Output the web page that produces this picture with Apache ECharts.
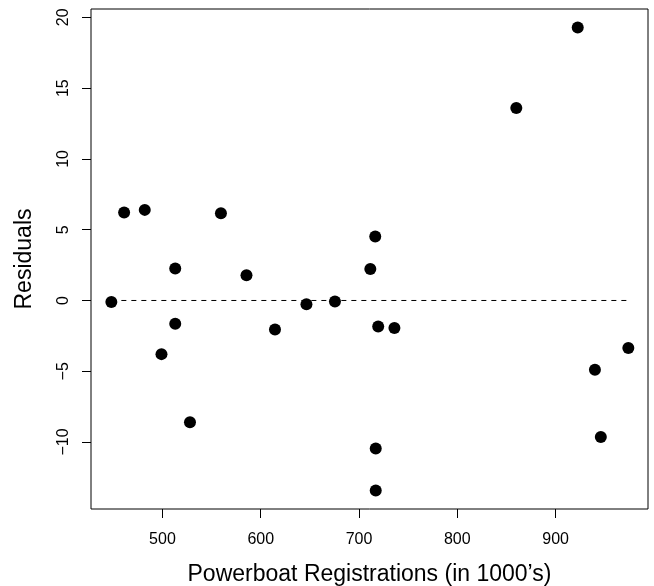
<!DOCTYPE html>
<html>
<head>
<meta charset="utf-8">
<script src="https://cdn.jsdelivr.net/npm/echarts@6/dist/echarts.min.js"></script>
<style>
  html, body { margin: 0; padding: 0; background: #fff; }
  #main { width: 654px; height: 586px; }
</style>
</head>
<body>
<div id="main"></div>
<script>
// powerboat registrations (1000's) and the fitted model's residuals
const registrations = [448, 461, 482, 499, 513, 513, 528, 559.5, 585.5, 614.5, 646.5, 675.5,
  711.5, 716.5, 717, 717, 719.5, 736, 860, 922.5, 940, 946, 974];
const residuals = [-0.11, 6.21, 6.4, -3.79, 2.26, -1.65, -8.6, 6.17, 1.79, -2.05, -0.26, -0.07,
  2.22, 4.52, -10.45, -13.42, -1.84, -1.95, 13.59, 19.28, -4.9, -9.65, -3.36];
const xTicks = [500, 600, 700, 800, 900];
const yTicks = [-10, -5, 0, 5, 10, 15, 20];

const font = 'Liberation Sans, Arial, Helvetica, sans-serif';
const points = registrations.map((v, i) => [v, residuals[i]]);
const xLo = Math.min(...registrations), xHi = Math.max(...registrations);

const chart = echarts.init(document.getElementById('main'));
chart.setOption({
  animation: false,
  backgroundColor: '#fff',
  grid: {
    left: 91, right: 6, top: 9, bottom: 77,
    outerBoundsMode: 'none',
    containLabel: false,
    show: true, borderColor: '#000', borderWidth: 1, backgroundColor: 'transparent'
  },
  xAxis: {
    type: 'value',
    min: 427.3, max: 994,
    name: 'Powerboat Registrations (in 1000\u2019s)',
    nameLocation: 'middle',
    nameGap: 54,
    nameTextStyle: { fontFamily: font, fontSize: 23, color: '#000' },
    axisLine: { show: false, onZero: false },
    splitLine: { show: false },
    axisTick: { show: true, inside: false, length: 9, customValues: xTicks, lineStyle: { color: '#000' } },
    axisLabel: { customValues: xTicks, margin: 23, fontFamily: font, fontSize: 16, color: '#000' }
  },
  yAxis: {
    type: 'value',
    min: -14.73, max: 20.59,
    name: 'Residuals',
    nameLocation: 'middle',
    nameRotate: 90,
    nameGap: 55,
    nameTextStyle: { fontFamily: font, fontSize: 23, color: '#000' },
    axisLine: { show: false, onZero: false },
    splitLine: { show: false },
    axisTick: { show: true, inside: false, length: 9, customValues: yTicks, lineStyle: { color: '#000' } },
    axisLabel: {
      customValues: yTicks, rotate: 90, margin: 19, fontFamily: font, fontSize: 16, color: '#000',
      formatter: v => String(v).replace('-', '\u2212')
    }
  },
  series: [
    {
      type: 'line',
      data: [[xLo, 0], [xHi, 0]],
      showSymbol: false,
      silent: true,
      lineStyle: { color: '#000', width: 1, type: [5, 5] },
      z: 1
    },
    {
      type: 'scatter',
      data: points,
      symbol: 'circle',
      symbolSize: 12,
      itemStyle: { color: '#000', opacity: 1 },
      z: 2
    }
  ]
});
</script>
</body>
</html>
